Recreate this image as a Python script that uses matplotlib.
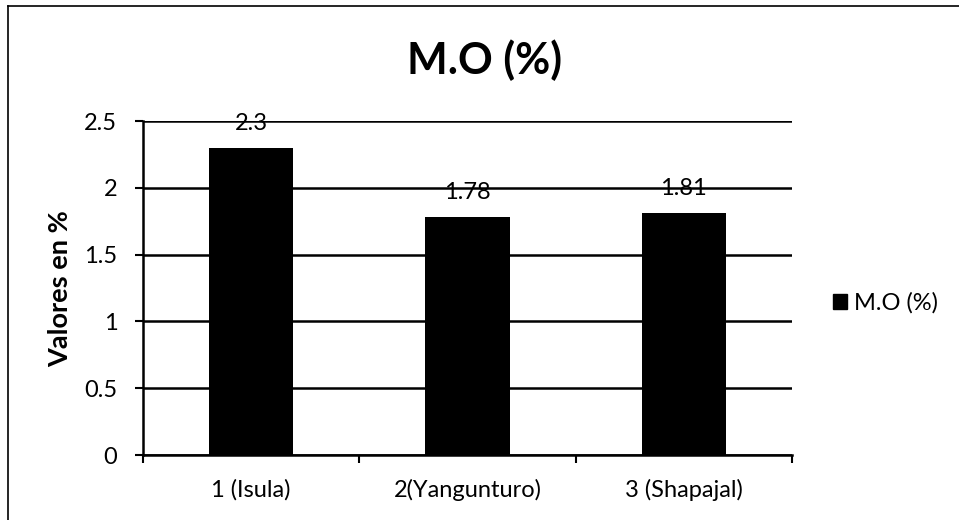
import matplotlib
matplotlib.use("Agg")
import matplotlib.pyplot as plt
from matplotlib.lines import Line2D
from matplotlib.patches import Patch

plt.rcParams['font.family'] = ['Lato', 'DejaVu Sans']

categories = ["1 (Isula)", "2(Yangunturo)", "3 (Shapajal)"]
values = [2.3, 1.78, 1.81]
value_labels = ["2.3", "1.78", "1.81"]
yticks = [0, 0.5, 1, 1.5, 2, 2.5]
ytick_labels = ["0", "0.5", "1", "1.5", "2", "2.5"]
series_name = "M.O (%)"
title = "M.O (%)"
ylabel = "Valores en %"

fig = plt.figure(figsize=(9.59, 5.2), dpi=100)
W, H = 959, 520
ax = fig.add_axes([143 / W, 1 - 455 / H, (792 - 143) / W, (455 - 121) / H])

x = list(range(len(categories)))
ax.bar(x, values, width=0.39, color="black", zorder=3)

fs = 17
ax.set_xlim(-0.5, len(categories) - 0.5)
ax.set_ylim(0, 2.5)
ax.set_yticks(yticks)
ax.set_yticklabels(ytick_labels, fontsize=fs)
ax.set_xticks([i - 0.5 for i in range(len(categories) + 1)])
ax.set_xticklabels([])
ax.set_xticks(x, minor=True)
ax.set_xticklabels(categories, minor=True, fontsize=fs)
ax.tick_params(axis='x', which='minor', length=0, pad=17)
ax.tick_params(axis='x', which='major', length=5.5, width=1.5, direction='out')
ax.tick_params(axis='y', length=5.5, width=1.5, direction='out', pad=13)

ax.grid(axis='y', color='black', linewidth=1.8, zorder=1)
for s in ['top', 'right']:
    ax.spines[s].set_visible(False)
for s in ['left', 'bottom']:
    ax.spines[s].set_linewidth(1.8)
    ax.spines[s].set_zorder(4)

for xi, v, lab in zip(x, values, value_labels):
    ax.annotate(lab, (xi, v), xytext=(0, 10), textcoords='offset points',
                ha='center', va='bottom', fontsize=fs, zorder=5)

fig.text(60 / W, 1 - 289 / H, ylabel, rotation=90, ha='center', va='center',
         fontsize=19.5, fontweight='bold')
fig.text(485 / W, 1 - 60 / H, title, ha='center', va='center',
         fontsize=31, fontweight='bold')

handle = Patch(facecolor='black', edgecolor='black')
fig.legend([handle], [series_name], loc='center left',
           bbox_to_anchor=(833 / W, 1 - 303 / H), frameon=False, fontsize=fs,
           handlelength=0.6, handleheight=0.6, handletextpad=0.3,
           borderpad=0, borderaxespad=0)

# partial frame around the chart area
fig.add_artist(Line2D([8 / W, 8 / W], [1 - 6 / H, 0], color='black', lw=1.2,
                      transform=fig.transFigure))
fig.add_artist(Line2D([8 / W, 1], [1 - 6 / H, 1 - 6 / H], color='black', lw=1.2,
                      transform=fig.transFigure))

fig.savefig("out.png", dpi=100, facecolor='white')
